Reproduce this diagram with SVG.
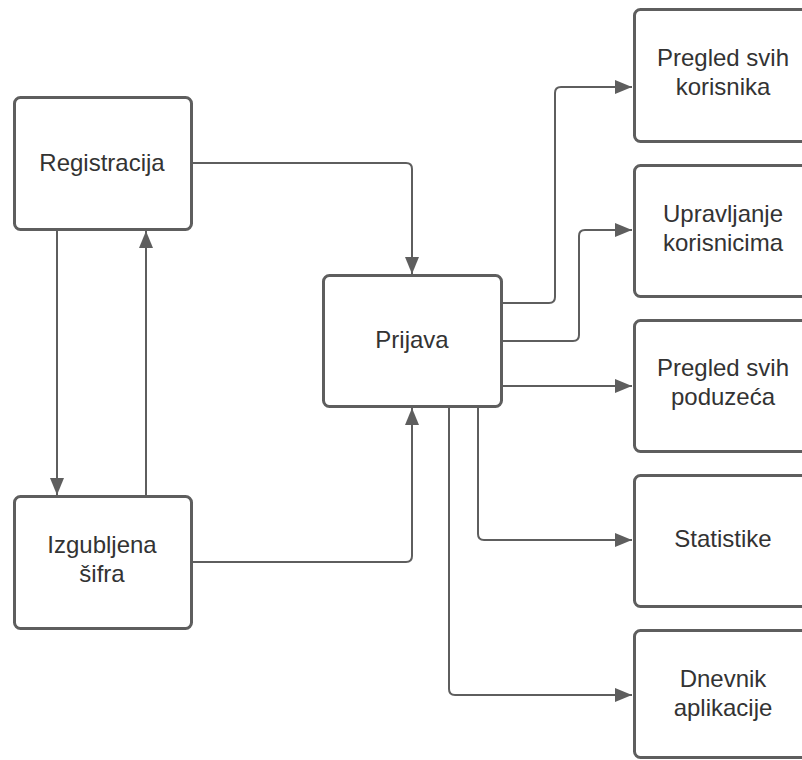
<svg xmlns="http://www.w3.org/2000/svg" width="802" height="760" viewBox="0 0 802 760">
<defs>
<marker id="arr" markerUnits="userSpaceOnUse" markerWidth="18" markerHeight="16" refX="17" refY="7" orient="auto">
<path d="M0,0 L17,7 L0,14 Z" fill="#5e5e5e"/>
</marker>
<style>
.box{fill:#fff;stroke:#5e5e5e;stroke-width:3}
.t{font-family:"Liberation Sans",Arial,sans-serif;font-size:24px;fill:#333;text-anchor:middle}
.c{fill:none;stroke:#5e5e5e;stroke-width:2}
</style>
</defs>
<rect width="802" height="760" fill="#fff"/>
<g id="connectors">
<path class="c" d="M192,163 H406 Q412,163 412,169 V274" marker-end="url(#arr)"/>
<path class="c" d="M57,230 V495" marker-end="url(#arr)"/>
<path class="c" d="M146,496 V231" marker-end="url(#arr)"/>
<path class="c" d="M192,562 H406 Q412,562 412,556 V408" marker-end="url(#arr)"/>
<path class="c" d="M502,303 H549 Q555,303 555,297 V93 Q555,87 561,87 H632" marker-end="url(#arr)"/>
<path class="c" d="M502,341 H573 Q579,341 579,335 V236 Q579,230 585,230 H632" marker-end="url(#arr)"/>
<path class="c" d="M502,386 H632" marker-end="url(#arr)"/>
<path class="c" d="M478,407 V534 Q478,540 484,540 H632" marker-end="url(#arr)"/>
<path class="c" d="M449,407 V689 Q449,695 455,695 H632" marker-end="url(#arr)"/>
</g>
<g id="registracija">
<rect class="box" x="14.5" y="97.5" width="177" height="132" rx="6"/>
<text class="t" x="102" y="171">Registracija</text>
</g>
<g id="izgubljena-sifra">
<rect class="box" x="14.5" y="496.5" width="177" height="132" rx="6"/>
<text class="t" x="102" y="553">Izgubljena</text>
<text class="t" x="102" y="582">šifra</text>
</g>
<g id="prijava">
<rect class="box" x="323.5" y="275.5" width="178" height="131" rx="6"/>
<text class="t" x="412" y="348">Prijava</text>
</g>
<g id="pregled-korisnika">
<rect class="box" x="634.5" y="9.5" width="178" height="132" rx="6"/>
<text class="t" x="723" y="66">Pregled svih</text>
<text class="t" x="723" y="95">korisnika</text>
</g>
<g id="upravljanje-korisnicima">
<rect class="box" x="634.5" y="165.5" width="178" height="131" rx="6"/>
<text class="t" x="723" y="222">Upravljanje</text>
<text class="t" x="723" y="251">korisnicima</text>
</g>
<g id="pregled-poduzeca">
<rect class="box" x="634.5" y="320.5" width="178" height="131" rx="6"/>
<text class="t" x="723" y="376">Pregled svih</text>
<text class="t" x="723" y="405">poduzeća</text>
</g>
<g id="statistike">
<rect class="box" x="634.5" y="475.5" width="178" height="131" rx="6"/>
<text class="t" x="723" y="547">Statistike</text>
</g>
<g id="dnevnik-aplikacije">
<rect class="box" x="634.5" y="630.5" width="178" height="127" rx="6"/>
<text class="t" x="723" y="687">Dnevnik</text>
<text class="t" x="723" y="716">aplikacije</text>
</g>
</svg>
